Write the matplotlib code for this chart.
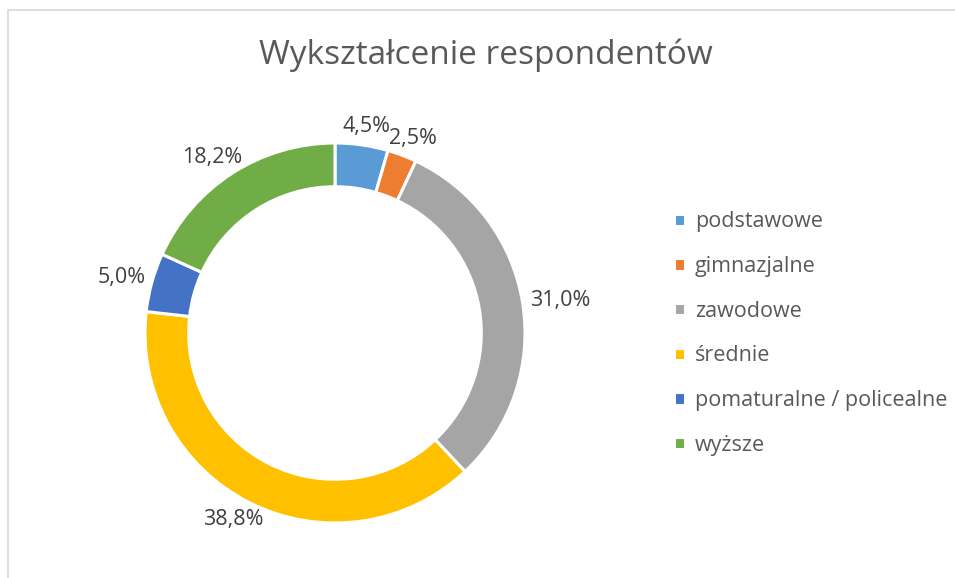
import numpy as np
import matplotlib.pyplot as plt
from matplotlib.patches import Rectangle

plt.rcParams['font.family'] = ['Open Sans', 'DejaVu Sans']

# dane z wykresu
kategorie = ['podstawowe', 'gimnazjalne', 'zawodowe', 'średnie',
             'pomaturalne / policealne', 'wyższe']
procenty = [4.5, 2.5, 31.0, 38.8, 5.0, 18.2]
kolory = ['#5B9BD5', '#ED7D31', '#A5A5A5', '#FFC000', '#4472C4', '#70AD47']
tytul = 'Wykształcenie respondentów'

fig = plt.figure(figsize=(9.55, 5.78), dpi=100)
fig.patch.set_facecolor('white')

# cienka ramka jak w excelu (widac lewa i gorna krawedz)
fig.patches.append(Rectangle((7.5 / 955, -0.1), 1.2, 1 - 10.5 / 578 + 0.1,
                             transform=fig.transFigure, fill=False,
                             edgecolor='#D9D9D9', linewidth=1.2))

# os kolowa: srodek ok. (335, 333) px, promien ok. 190 px
lim = 1.2
R_px = 190
size_px = 2 * lim * R_px
ax = fig.add_axes([(335 - size_px / 2) / 955, (578 - 333 - size_px / 2) / 578,
                   size_px / 955, size_px / 578])

wedges, _, autotexts = ax.pie(
    procenty, colors=kolory, startangle=90, counterclock=False,
    autopct=lambda p: f'{p:.1f}%'.replace('.', ','), pctdistance=1.15,
    wedgeprops=dict(width=0.23, edgecolor='white', linewidth=2.2),
    textprops=dict(fontsize=15.5, color='#404040'))
ax.set_xlim(-lim, lim)
ax.set_ylim(-lim, lim)
ax.set_aspect('equal')
ax.axis('off')

# etykiety jak "najlepsze dopasowanie" w excelu: naroznik tekstu przy pierscieniu
renderer = fig.canvas.get_renderer()
for w, t in zip(wedges, autotexts):
    ang = np.deg2rad((w.theta1 + w.theta2) / 2)
    bb = t.get_window_extent(renderer)
    hw = bb.width / 2 / R_px
    hh = bb.height / 2 / R_px
    r = 1.04
    t.set_position((r * np.cos(ang) + hw * np.cos(ang),
                    r * np.sin(ang) + hh * np.sin(ang)))

fig.text(486 / 955, 1 - 55 / 578, tytul, ha='center', va='center',
         fontsize=24, color='#595959')

fig.legend(wedges, kategorie, loc='upper left',
           bbox_to_anchor=(655 / 955, 1 - 192 / 578), frameon=False,
           fontsize=15.5, labelcolor='#595959', handlelength=0.5,
           handleheight=0.5, handletextpad=0.45, labelspacing=1.1)

fig.savefig('out.png', dpi=100)
